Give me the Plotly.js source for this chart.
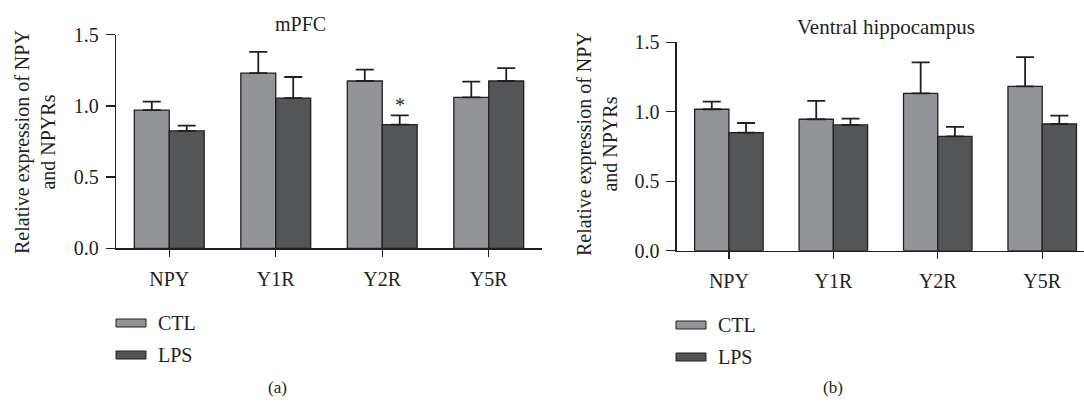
<!DOCTYPE html>
<html>
<head>
<meta charset="utf-8">
<script src="https://cdn.plot.ly/plotly-3.0.1.min.js"></script>
<style>html,body{margin:0;padding:0;background:#fff;}#chart{width:1084px;height:406px;}</style>
</head>
<body>
<div id="chart"></div>
<script>
// ---- data ----
const categories = ['NPY', 'Y1R', 'Y2R', 'Y5R'];
const mpfcCTL = [0.97, 1.23, 1.175, 1.06];
const mpfcCTLerr = [0.06, 0.15, 0.08, 0.11];
const mpfcLPS = [0.825, 1.055, 0.868, 1.175];
const mpfcLPSerr = [0.036, 0.148, 0.066, 0.09];
const vhCTL = [1.018, 0.946, 1.133, 1.183];
const vhCTLerr = [0.055, 0.132, 0.223, 0.211];
const vhLPS = [0.85, 0.905, 0.823, 0.912];
const vhLPSerr = [0.069, 0.045, 0.068, 0.06];
const yTicks = [0.0, 0.5, 1.0, 1.5];
const yTickText = ['0.0', '0.5', '1.0', '1.5'];
const seriesNames = ['CTL', 'LPS'];

// ---- style ----
const W = 1084, H = 406;
const FONT = 'Liberation Serif, Times New Roman, serif';
const TXT = '#231f20';
const CTL_COLOR = '#939497';
const LPS_COLOR = '#545557';
const EDGE = '#231f20';
const BARGAP = 0.344;
const FS = 20;
const px = x => x / W;
const py = y => 1 - y / H;

function bar(x, y, err, name, color, xa, ya) {
  return {
    type: 'bar', x: x, y: y, name: name, xaxis: xa, yaxis: ya,
    marker: {color: color, line: {color: EDGE, width: 1.3}},
    error_y: {type: 'data', array: err, arrayminus: err.map(() => 0), symmetric: false,
              visible: true, color: EDGE, thickness: 1.8, width: 9},
    showlegend: false, hoverinfo: 'skip'
  };
}

const data = [
  bar(categories, mpfcCTL, mpfcCTLerr, seriesNames[0], CTL_COLOR, 'x', 'y'),
  bar(categories, mpfcLPS, mpfcLPSerr, seriesNames[1], LPS_COLOR, 'x', 'y'),
  bar(categories, vhCTL, vhCTLerr, seriesNames[0], CTL_COLOR, 'x2', 'y2'),
  bar(categories, vhLPS, vhLPSerr, seriesNames[1], LPS_COLOR, 'x2', 'y2')
];

function xaxis(domain, range, yanchor) {
  return {
    domain: domain, range: range, anchor: yanchor, type: 'category',
    showline: true, linecolor: EDGE, linewidth: 1.3,
    ticks: 'outside', ticklen: 7, tickwidth: 1.3, tickcolor: EDGE,
    showgrid: false, zeroline: false, fixedrange: true,
    tickfont: {family: FONT, size: FS, color: TXT}, ticklabelstandoff: 5
  };
}
function yaxis(domain, xanchor) {
  return {
    domain: domain, range: [0, 1.5], anchor: xanchor,
    tickvals: yTicks, ticktext: yTickText,
    showline: true, linecolor: EDGE, linewidth: 1.3,
    ticks: 'outside', ticklen: 9, tickwidth: 1.3, tickcolor: EDGE,
    showgrid: false, zeroline: false, fixedrange: true,
    tickfont: {family: FONT, size: FS, color: TXT}, ticklabelstandoff: 3
  };
}

const ann = [];
const shapes = [];
function txt(x, y, t, opts) {
  ann.push(Object.assign({xref: 'paper', yref: 'paper', x: px(x), y: py(y), text: t, showarrow: false,
    font: {family: FONT, size: FS, color: TXT}, xanchor: 'center', yanchor: 'middle'}, opts || {}));
}
// titles
txt(300, 24, 'mPFC');
txt(886, 27, 'Ventral hippocampus', {font: {family: FONT, size: 21, color: TXT}});
// y axis titles
const yTitle = 'Relative expression of NPY<br>and NPYRs';
txt(35, 142, yTitle, {textangle: -90, font: {family: FONT, size: 20, color: TXT}});
txt(597, 144, yTitle, {textangle: -90, font: {family: FONT, size: 20, color: TXT}});
// panel labels
txt(277, 387, '(a)', {font: {family: FONT, size: 17, color: TXT}});
txt(833, 387, '(b)', {font: {family: FONT, size: 17, color: TXT}});
// legends
function legend(x0, yc, color, label) {
  shapes.push({type: 'rect', xref: 'paper', yref: 'paper', x0: px(x0), x1: px(x0 + 30),
    y0: py(yc + 4), y1: py(yc - 4), fillcolor: color, line: {color: EDGE, width: 1}});
  txt(x0 + 40, yc, label, {xanchor: 'left'});
}
legend(116, 323, CTL_COLOR, seriesNames[0]);
legend(116, 355, LPS_COLOR, seriesNames[1]);
legend(676, 325, CTL_COLOR, seriesNames[0]);
legend(676, 357, LPS_COLOR, seriesNames[1]);
// significance asterisk above LPS Y2R (mPFC)
const lpsOffset = (1 - BARGAP) / 4;
ann.push({xref: 'x', yref: 'y', x: 2 + lpsOffset, y: mpfcLPS[2] + mpfcLPSerr[2], text: '*',
  showarrow: false, yanchor: 'bottom', yshift: -3, font: {family: FONT, size: 20, color: TXT}});

const layout = {
  width: W, height: H, margin: {l: 0, r: 0, t: 0, b: 0},
  paper_bgcolor: '#fff', plot_bgcolor: 'rgba(0,0,0,0)',
  barmode: 'group', bargap: BARGAP, bargroupgap: 0,
  showlegend: false,
  xaxis: xaxis([px(116), px(542)], [-0.5, 3.5], 'y'),
  yaxis: yaxis([py(248.3), py(34.7)], 'x'),
  xaxis2: xaxis([px(676.7), 1], [-0.5, 3.4], 'y2'),
  yaxis2: yaxis([py(250.7), py(42.3)], 'x2'),
  annotations: ann, shapes: shapes
};

Plotly.newPlot('chart', data, layout, {staticPlot: true, displayModeBar: false});
</script>
</body>
</html>
